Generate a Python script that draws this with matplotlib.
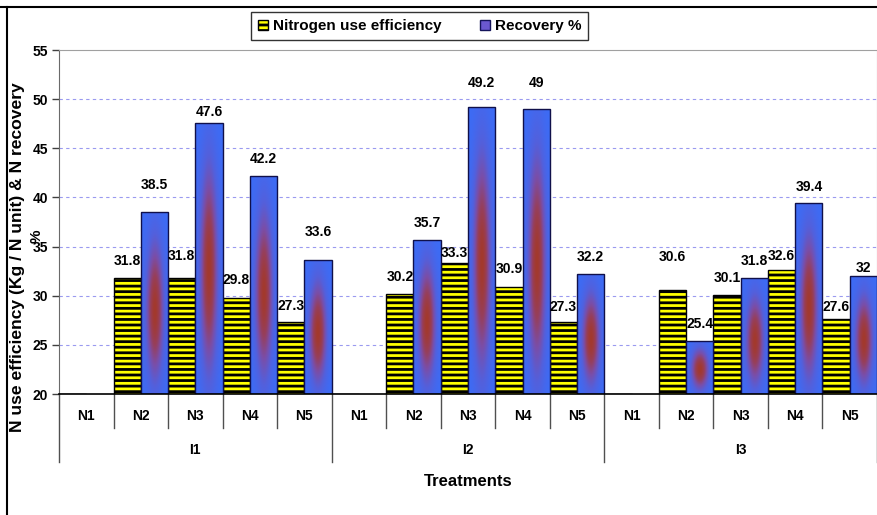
import numpy as np
import matplotlib
matplotlib.use("Agg")
import matplotlib.pyplot as plt
from matplotlib.patches import Patch, Rectangle
from matplotlib.lines import Line2D
from matplotlib.colors import LinearSegmentedColormap
from matplotlib import transforms

# ---- data -----------------------------------------------------------------
groups = ["I1", "I2", "I3"]
levels = ["N1", "N2", "N3", "N4", "N5"]

nue = [np.nan, 31.8, 31.8, 29.8, 27.3,
       np.nan, 30.2, 33.3, 30.9, 27.3,
       np.nan, 30.6, 30.1, 32.6, 27.6]
recovery = [np.nan, 38.5, 47.6, 42.2, 33.6,
            np.nan, 35.7, 49.2, 49.0, 32.2,
            np.nan, 25.4, 31.8, 39.4, 32.0]

# height of each value label above its bar (axis units)
nue_lift = [0, 1.7, 2.2, 1.8, 1.65,
            0, 1.74, 1.0, 1.78, 1.52,
            0, 3.3, 1.74, 1.47, 1.22]
rec_lift = [0, 2.8, 1.08, 1.7, 2.85,
            0, 1.66, 2.47, 2.6, 1.77,
            0, 1.69, 1.77, 1.63, 0.85]

yticks = [20, 25, 30, 35, 40, 45, 50, 55]
y_min, y_max = 20, 55

# ---- style ----------------------------------------------------------------
FONT = ["Liberation Sans Narrow", "Liberation Sans", "DejaVu Sans"]
plt.rcParams["font.family"] = FONT
plt.rcParams["font.weight"] = "bold"
plt.rcParams["hatch.linewidth"] = 2.0

YELLOW = "#ffff00"
BLUE = "#3c6cf6"
glow_cmap = LinearSegmentedColormap.from_list(
    "glow", [BLUE, "#5360dc", "#7a4ea8", "#963f5c", "#a3392c"])

W, H = 878, 515
fig = plt.figure(figsize=(W / 100, H / 100), dpi=100)
ax = fig.add_axes([59 / W, 1 - 394 / H, (877 - 59) / W, (394 - 50) / H])

n = len(nue)
x = np.arange(n)

# yellow bars with black horizontal stripes
ax.bar(x - 0.25, np.nan_to_num(nue) - y_min, width=0.5, bottom=y_min,
       color=YELLOW, edgecolor="black", hatch="---", linewidth=1.0, zorder=3)

# blue bars with a reddish glow in the middle
gx = np.linspace(-1, 1, 80)
gy = np.linspace(-1, 1, 160)
GX, GY = np.meshgrid(gx, gy)
glow = np.exp(-(GX / 0.6) ** 2) * np.exp(-((GY + 0.08) / 0.72) ** 2)
rec_bars = ax.bar(x + 0.25, np.nan_to_num(recovery) - y_min, width=0.5,
                  bottom=y_min, color=BLUE, edgecolor="none", zorder=3)
for xi, v, bar in zip(x, recovery, rec_bars):
    if np.isnan(v):
        continue
    im = ax.imshow(glow, cmap=glow_cmap, vmin=0, vmax=1, origin="lower",
                   extent=(xi, xi + 0.5, y_min, v), aspect="auto",
                   interpolation="bilinear", zorder=3.5)
    im.set_clip_path(bar)
    ax.add_patch(Rectangle((xi, y_min), 0.5, v - y_min, facecolor="none",
                           edgecolor="#10104a", linewidth=1.0, zorder=4))

# value labels
for xi, v, d in zip(x, nue, nue_lift):
    if not np.isnan(v):
        ax.text(xi - 0.25, v + d, f"{v:g}", ha="center", va="center",
                fontsize=10, fontweight="bold", zorder=6)
for xi, v, d in zip(x, recovery, rec_lift):
    if not np.isnan(v):
        ax.text(xi + 0.25, v + d, f"{v:g}", ha="center", va="center",
                fontsize=10, fontweight="bold", zorder=6)

# axes
ax.set_xlim(-0.5, n - 0.5)
ax.set_ylim(y_min, y_max)
ax.set_yticks(yticks)
ax.set_yticklabels([str(t) for t in yticks], fontsize=10, fontweight="bold")
ax.tick_params(axis="y", direction="out", length=5, width=1, color="#404040", pad=3)
ax.set_xticks([])
for t in yticks[1:-1]:
    ax.axhline(t, color="#9a9af0", linewidth=0.8, linestyle=(0, (3, 3)), zorder=1)
ax.spines["left"].set_color("#6a6a6a")
ax.spines["top"].set_color("#a0a0a0")
ax.spines["right"].set_color("#a0a0a0")
ax.spines["bottom"].set_color("black")
ax.spines["bottom"].set_linewidth(1.2)
ax.spines["bottom"].set_zorder(5)

# two-level category axis
tr = transforms.blended_transform_factory(ax.transData, ax.transAxes)
row1 = -(428 - 394) / 344
row2 = -(462 - 394) / 344
for b in range(n + 1):
    bx = b - 0.5
    bottom = row2 if b % len(levels) == 0 else row1
    ax.add_line(Line2D([bx, bx], [0, bottom], transform=tr, color="#505050",
                       linewidth=1.0, clip_on=False))
for i in range(n):
    ax.text(i, -(416.5 - 394) / 344, levels[i % len(levels)], transform=tr,
            ha="center", va="center", fontsize=10, fontweight="bold")
for g, name in enumerate(groups):
    cx = g * len(levels) + (len(levels) - 1) / 2
    ax.text(cx, -(450.5 - 394) / 344, name, transform=tr,
            ha="center", va="center", fontsize=10, fontweight="bold")

fig.text(468 / W, 1 - 481.5 / H, "Treatments", ha="center", va="center",
         fontsize=12, fontweight="bold")
fig.text(18 / W, 1 - 257 / H, "N use efficiency (Kg / N unit) & N recovery",
         rotation=90, ha="center", va="center", fontsize=12.6, fontweight="bold")
fig.text(37 / W, 1 - 236 / H, "%", rotation=90, ha="center", va="center",
         fontsize=11, fontweight="bold")

# legend
handles = [Patch(facecolor=YELLOW, edgecolor="black", hatch="---", linewidth=1.0),
           Patch(facecolor="#6a58d0", edgecolor="#14145a", linewidth=1.0)]
leg = fig.legend(handles, ["Nitrogen use efficiency", "Recovery %"],
                 loc="center", bbox_to_anchor=(419.5 / W, 1 - 26.2 / H), ncol=2,
                 frameon=True, fancybox=False, edgecolor="black",
                 prop={"family": FONT, "weight": "bold", "size": 11},
                 handlelength=0.7, handleheight=0.7, handletextpad=0.3,
                 columnspacing=2.5, borderpad=0.45, borderaxespad=0)
leg.get_frame().set_linewidth(1.0)

# outer frame
fig.add_artist(Line2D([0, 1], [1 - 6.5 / H, 1 - 6.5 / H], color="black",
                      linewidth=1.5, transform=fig.transFigure))
fig.add_artist(Line2D([7.5 / W, 7.5 / W], [0, 1 - 6.5 / H], color="black",
                      linewidth=1.5, transform=fig.transFigure))

fig.savefig("out.png", dpi=100)
